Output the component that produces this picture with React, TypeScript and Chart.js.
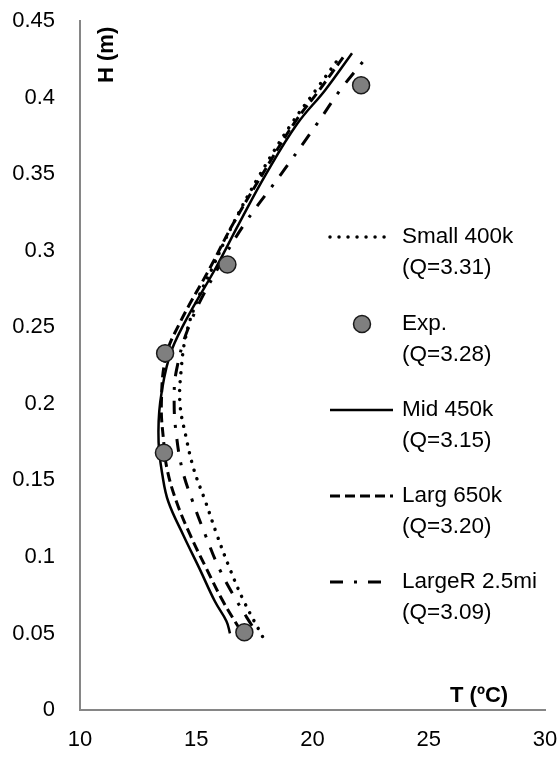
import React, { useEffect, useRef } from "react";
import { Chart, registerables } from "chart.js";

Chart.register(...registerables);

// ---- Data ----
const smallT = [17.85, 17.05, 16.45, 15.9, 15.4, 14.9, 14.55, 14.3, 14.35, 14.55, 15.0, 15.7, 16.6, 17.75, 19.1, 20.15, 21.1];
const smallH = [0.048, 0.071, 0.092, 0.114, 0.136, 0.157, 0.179, 0.2, 0.222, 0.244, 0.266, 0.289, 0.318, 0.35, 0.383, 0.405, 0.425];

const expT = [17.07, 13.61, 13.66, 16.34, 22.09];
const expH = [0.0508, 0.168, 0.233, 0.291, 0.408];

const midT = [16.45, 16.3, 15.8, 15.15, 14.45, 13.8, 13.55, 13.38, 13.45, 13.85, 14.5, 15.85, 16.85, 18.0, 19.35, 20.55, 21.7];
const midH = [0.05, 0.058, 0.071, 0.092, 0.114, 0.136, 0.153, 0.175, 0.201, 0.231, 0.253, 0.289, 0.318, 0.35, 0.383, 0.405, 0.429];

const largT = [16.9, 16.15, 15.45, 14.75, 14.15, 13.75, 13.6, 13.5, 13.7, 14.3, 15.6, 16.6, 17.85, 19.2, 20.3, 21.35];
const largH = [0.052, 0.071, 0.092, 0.114, 0.136, 0.157, 0.175, 0.2, 0.231, 0.253, 0.289, 0.318, 0.35, 0.383, 0.405, 0.427];

const largeRT = [17.4, 16.75, 16.0, 15.4, 14.85, 14.4, 14.15, 14.05, 14.15, 14.75, 15.95, 17.1, 18.65, 20.2, 21.2, 22.25];
const largeRH = [0.055, 0.071, 0.092, 0.114, 0.136, 0.157, 0.179, 0.2, 0.222, 0.253, 0.289, 0.318, 0.35, 0.383, 0.405, 0.425];

const seriesNames = ["Small 400k", "Exp.", "Mid 450k", "Larg 650k", "LargeR 2.5mi"];
const seriesQ = ["(Q=3.31)", "(Q=3.28)", "(Q=3.15)", "(Q=3.20)", "(Q=3.09)"];

const xTickLabels = ["10", "15", "20", "25", "30"];
const yTickLabels = ["0", "0.05", "0.1", "0.15", "0.2", "0.25", "0.3", "0.35", "0.4", "0.45"];

const xTitle = "T (ºC)";
const yTitle = "H (m)";

const pts = (xs: number[], ys: number[]) => xs.map((x, i) => ({ x, y: ys[i] }));

const FONT = "'Liberation Sans', Arial, sans-serif";

const legendPlugin = {
  id: "customLegend",
  afterDraw(chart: any) {
    const ctx = chart.ctx;
    ctx.save();
    // axis titles
    ctx.fillStyle = "#000";
    ctx.font = `bold 22px ${FONT}`;
    ctx.textBaseline = "middle";
    ctx.textAlign = "left";
    ctx.fillText(xTitle, 450, 696);
    ctx.save();
    ctx.translate(107, 83);
    ctx.rotate(-Math.PI / 2);
    ctx.fillText(yTitle, 0, 0);
    ctx.restore();

    const rows = [237, 324, 410, 496, 582];
    const dsOrder = [1, 0, 2, 3, 4]; // dataset index for each legend row
    ctx.font = `22.5px ${FONT}`;
    rows.forEach((y, i) => {
      const ds = chart.data.datasets[dsOrder[i]];
      if (i === 1) {
        ctx.beginPath();
        ctx.arc(362, y, 8.5, 0, Math.PI * 2);
        ctx.fillStyle = ds.pointBackgroundColor;
        ctx.fill();
        ctx.lineWidth = ds.pointBorderWidth;
        ctx.strokeStyle = ds.pointBorderColor;
        ctx.stroke();
      } else {
        ctx.beginPath();
        ctx.setLineDash(ds.borderDash || []);
        ctx.lineCap = ds.borderCapStyle || "butt";
        ctx.lineWidth = ds.borderWidth;
        ctx.strokeStyle = ds.borderColor;
        ctx.moveTo(330, y);
        ctx.lineTo(i === 4 ? 382 : 393, y);
        ctx.stroke();
        ctx.setLineDash([]);
      }
      ctx.fillStyle = "#000";
      ctx.textAlign = "left";
      ctx.textBaseline = "middle";
      ctx.fillText(seriesNames[i], 402, y);
      ctx.fillText(seriesQ[i], 402, y + 31);
    });
    ctx.restore();
  },
};

export default function App() {
  const ref = useRef<HTMLCanvasElement>(null);
  useEffect(() => {
    if (!ref.current) return;
    const chart = new Chart(ref.current, {
      type: "scatter",
      data: {
        datasets: [
          {
            label: "Exp.",
            data: pts(expT, expH),
            showLine: false,
            pointRadius: 8.5,
            pointBackgroundColor: "#7f7f7f",
            pointBorderColor: "#1a1a1a",
            pointBorderWidth: 1.5,
            order: -1,
          } as any,
          {
            label: "Small 400k",
            data: pts(smallT, smallH),
            showLine: true,
            pointRadius: 0,
            borderColor: "#000",
            borderWidth: 3.5,
            borderDash: [0.01, 9],
            borderCapStyle: "round",
            tension: 0.4,
          },
          {
            label: "Mid 450k",
            data: pts(midT, midH),
            showLine: true,
            pointRadius: 0,
            borderColor: "#000",
            borderWidth: 2.5,
            tension: 0.4,
          },
          {
            label: "Larg 650k",
            data: pts(largT, largH),
            showLine: true,
            pointRadius: 0,
            borderColor: "#000",
            borderWidth: 3,
            borderDash: [10, 5],
            tension: 0.4,
          },
          {
            label: "LargeR 2.5mi",
            data: pts(largeRT, largeRH),
            showLine: true,
            pointRadius: 0,
            borderColor: "#000",
            borderWidth: 3,
            borderDash: [13, 11, 3, 11],
            tension: 0.4,
          },
        ],
      },
      options: {
        animation: false,
        responsive: false,
        devicePixelRatio: 1,
        layout: { padding: { top: 21, right: 14, left: 0, bottom: 0 } },
        plugins: { legend: { display: false }, tooltip: { enabled: false } },
        scales: {
          x: {
            type: "linear",
            min: 10,
            max: 30,
            ticks: {
              stepSize: 5,
              padding: 17,
              color: "#000",
              font: { family: FONT, size: 22 },
              callback: (v: any, i: number) => xTickLabels[i],
            },
            grid: { display: false, drawTicks: false },
            border: { display: true, color: "#868686", width: 2 },
            afterFit: (s: any) => {
              s.height = 48;
              s.paddingLeft = 0;
              s.paddingRight = 0;
            },
          },
          y: {
            type: "linear",
            min: 0,
            max: 0.45,
            ticks: {
              stepSize: 0.05,
              padding: 25,
              color: "#000",
              font: { family: FONT, size: 22 },
              callback: (v: any, i: number) => yTickLabels[i],
            },
            grid: { display: false, drawTicks: false },
            border: { display: true, color: "#868686", width: 2 },
            afterFit: (s: any) => {
              s.width = 80;
              s.paddingTop = 0;
              s.paddingBottom = 0;
            },
          },
        },
      },
      plugins: [legendPlugin],
    });
    return () => chart.destroy();
  }, []);
  return (
    <div style={{ position: "fixed", left: 0, top: 0, width: 559, height: 758, background: "#fff" }}>
      <canvas ref={ref} width={559} height={758} />
    </div>
  );
}
